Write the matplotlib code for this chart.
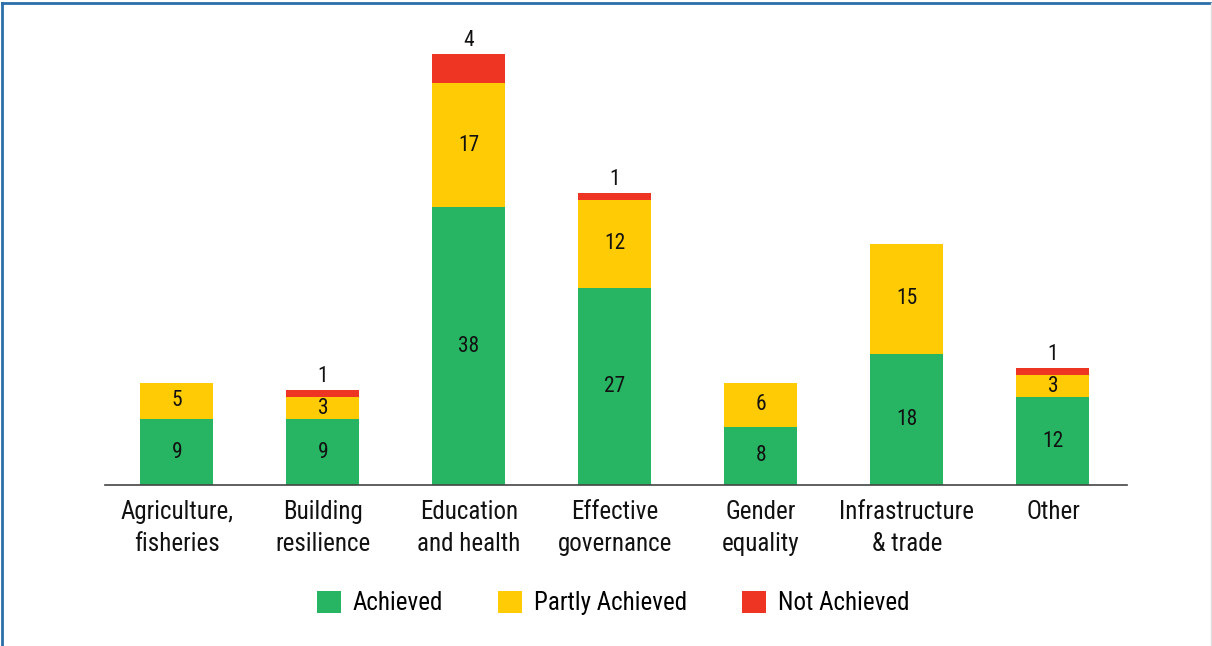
import matplotlib
matplotlib.use("Agg")
import matplotlib.pyplot as plt
from matplotlib.patches import Patch
from matplotlib.lines import Line2D
import numpy as np

plt.rcParams['font.family'] = ['Liberation Sans Narrow', 'Roboto Condensed', 'Liberation Sans', 'DejaVu Sans']

categories = ["Agriculture,\nfisheries", "Building\nresilience", "Education\nand health",
              "Effective\ngovernance", "Gender\nequality", "Infrastructure\n& trade", "Other"]
achieved = [9, 9, 38, 27, 8, 18, 12]
partly = [5, 3, 17, 12, 6, 15, 3]
not_achieved = [0, 1, 4, 1, 0, 0, 1]
series_names = ["Achieved", "Partly Achieved", "Not Achieved"]

GREEN = "#27b463"
YELLOW = "#ffcb05"
RED = "#ee3524"

W, H = 1212, 646
fig = plt.figure(figsize=(W / 100, H / 100), dpi=100)
ax = fig.add_axes([105 / W, 1 - 485 / H, 1022 / W, (485 - 46.7) / H])

x = np.arange(len(categories))
a = np.array(achieved)
p = np.array(partly)
n = np.array(not_achieved)
bw = 0.5
ax.bar(x, a, bw, color=GREEN)
ax.bar(x, p, bw, bottom=a, color=YELLOW)
ax.bar(x, n, bw, bottom=a + p, color=RED)

VFS = 15.5
for i in range(len(x)):
    if a[i] > 0:
        ax.text(x[i], a[i] / 2, str(a[i]), ha='center', va='center', fontsize=VFS, color='#111111')
    if p[i] > 0:
        ax.text(x[i], a[i] + p[i] / 2, str(p[i]), ha='center', va='center', fontsize=VFS, color='#111111')
    if n[i] > 0:
        ax.annotate(str(n[i]), (x[i], a[i] + p[i] + n[i]), xytext=(0, 2), textcoords='offset points',
                    ha='center', va='bottom', fontsize=VFS, color='#111111')

ax.set_xlim(-0.493, 6.507)
ax.set_ylim(0, 60)
for s in ['top', 'right', 'left']:
    ax.spines[s].set_visible(False)
ax.spines['bottom'].set_color('#444444')
ax.spines['bottom'].set_linewidth(1.2)
ax.set_yticks([])
ax.set_xticks(x)
ax.set_xticklabels(categories, fontsize=18, color='#111111', linespacing=1.4)
ax.tick_params(axis='x', length=0, pad=11)

handles = [Patch(facecolor=c, edgecolor='none') for c in (GREEN, YELLOW, RED)]
fig.legend(handles, series_names, loc='center', bbox_to_anchor=(613 / W, 1 - 603 / H),
           ncol=3, frameon=False, fontsize=18, handlelength=0.96, handleheight=0.96,
           handletextpad=0.48, columnspacing=2.2, borderaxespad=0, borderpad=0)

# figure frame (blue top/left, faint right)
fig.add_artist(Line2D([2.5 / W, 2.5 / W], [0, 1 - 2.5 / H], transform=fig.transFigure, color='#2a6fa8', lw=2))
fig.add_artist(Line2D([2.5 / W, 1], [1 - 2.5 / H, 1 - 2.5 / H], transform=fig.transFigure, color='#2a6fa8', lw=2))
fig.add_artist(Line2D([1 - 1.5 / W, 1 - 1.5 / W], [0, 1 - 3 / H], transform=fig.transFigure, color='#dddddd', lw=1))

fig.savefig("out.png", dpi=100)
